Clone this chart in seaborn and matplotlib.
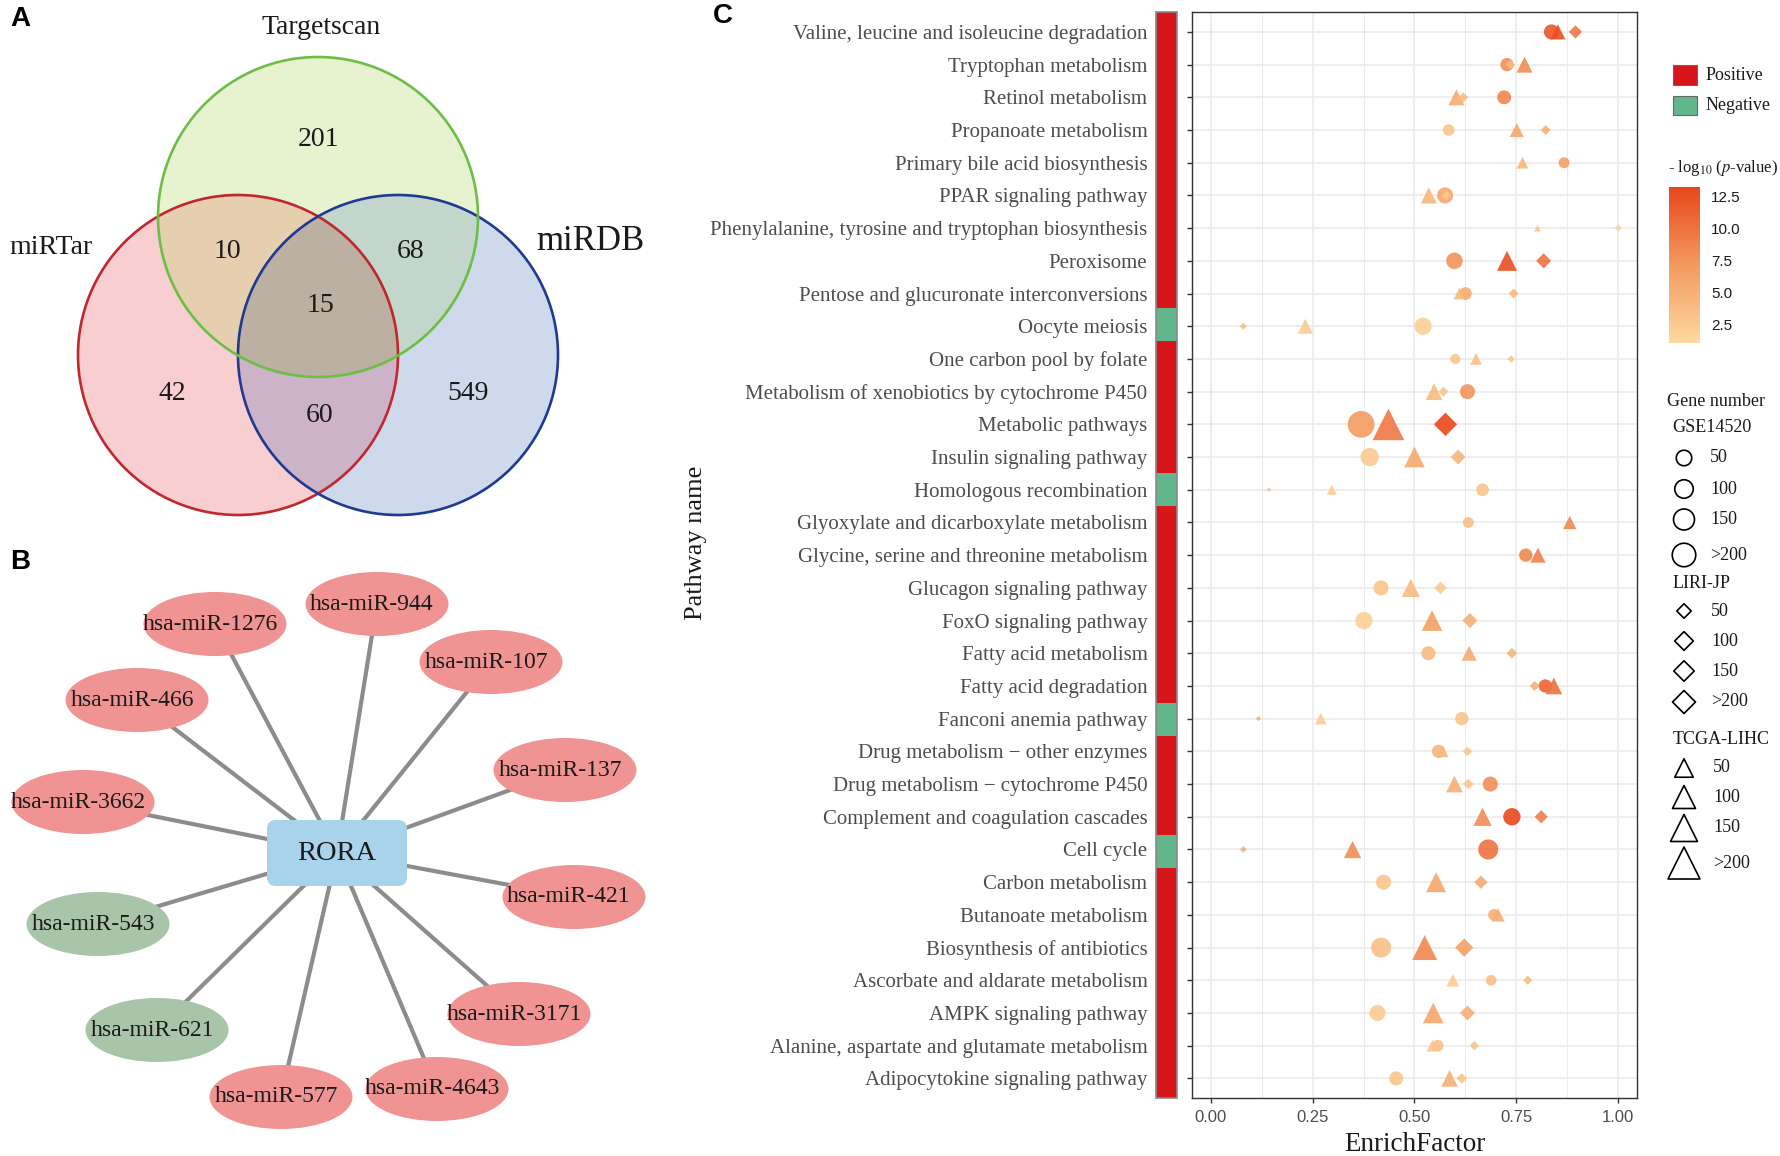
import numpy as np
import pandas as pd
import matplotlib
matplotlib.use("Agg")
import matplotlib.pyplot as plt
import seaborn as sns
from matplotlib.colors import LinearSegmentedColormap, ListedColormap, Normalize, to_rgba
from matplotlib.patches import Circle, Ellipse, FancyBboxPatch, Rectangle
import matplotlib.cm as cm

# ---------------------------------------------------------------- data
pathways = [
    "Valine, leucine and isoleucine degradation",
    "Tryptophan metabolism",
    "Retinol metabolism",
    "Propanoate metabolism",
    "Primary bile acid biosynthesis",
    "PPAR signaling pathway",
    "Phenylalanine, tyrosine and tryptophan biosynthesis",
    "Peroxisome",
    "Pentose and glucuronate interconversions",
    "Oocyte meiosis",
    "One carbon pool by folate",
    "Metabolism of xenobiotics by cytochrome P450",
    "Metabolic pathways",
    "Insulin signaling pathway",
    "Homologous recombination",
    "Glyoxylate and dicarboxylate metabolism",
    "Glycine, serine and threonine metabolism",
    "Glucagon signaling pathway",
    "FoxO signaling pathway",
    "Fatty acid metabolism",
    "Fatty acid degradation",
    "Fanconi anemia pathway",
    "Drug metabolism \u2212 other enzymes",
    "Drug metabolism \u2212 cytochrome P450",
    "Complement and coagulation cascades",
    "Cell cycle",
    "Carbon metabolism",
    "Butanoate metabolism",
    "Biosynthesis of antibiotics",
    "Ascorbate and aldarate metabolism",
    "AMPK signaling pathway",
    "Alanine, aspartate and glutamate metabolism",
    "Adipocytokine signaling pathway",
]
direction = ["Positive"] * 33
for i in (9, 14, 21, 25):
    direction[i] = "Negative"

nan = np.nan
# GSE14520 (circles)
gse_ef = [0.836, 0.727, 0.720, 0.584, 0.867, 0.575, nan, 0.598, 0.625, 0.521, 0.600,
          0.630, 0.369, 0.390, 0.667, 0.632, 0.773, 0.418, 0.376, 0.534, 0.821, 0.616,
          0.559, 0.686, 0.739, 0.681, 0.424, 0.695, 0.418, 0.688, 0.409, 0.557, 0.455]
gse_genes = [140, 110, 120, 85, 75, 160, nan, 170, 100, 186, 62,
             140, 442, 208, 100, 75, 110, 140, 186, 122, 110, 110,
             110, 140, 186, 248, 140, 85, 248, 70, 160, 85, 122]
gse_logp = [12, 8, 8.5, 3, 6.5, 6, nan, 7.5, 5.5, 2, 3,
            7.5, 7, 2.5, 3, 3.5, 8.5, 3, 2, 4, 11, 3,
            4.5, 8, 13, 10, 3, 5, 3.5, 3.5, 2.5, 3.5, 3]
# LIRI-JP (diamonds)
liri_ef = [0.895, 0.735, 0.620, 0.822, nan, 0.578, 1.000, 0.817, 0.743, 0.080, 0.737,
           0.571, 0.576, 0.607, 0.143, nan, nan, 0.564, 0.636, 0.739, 0.795, 0.117,
           0.630, 0.632, 0.811, 0.080, 0.663, nan, 0.622, 0.778, 0.630, 0.647, 0.616]
liri_genes = [55, 31, 31, 31, nan, 27, 14, 70, 31, 14, 17,
              31, 169, 70, 5, nan, nan, 50, 70, 35, 31, 8,
              27, 35, 55, 14, 55, nan, 104, 27, 70, 27, 35]
liri_logp = [9.5, 4, 4, 5, nan, 3, 2, 10, 4, 4, 3,
             3, 13, 4.5, 4, nan, nan, 2.5, 5, 4.5, 5, 5,
             3, 3, 9, 5, 5.5, nan, 6.5, 4, 5, 3, 3]
# TCGA-LIHC (triangles)
tcga_ef = [0.852, 0.770, 0.603, 0.751, 0.765, 0.535, 0.802, 0.727, 0.610, 0.232, 0.651,
           0.548, 0.436, 0.500, 0.297, 0.881, 0.803, 0.491, 0.543, 0.634, 0.842, 0.270,
           0.569, 0.598, 0.667, 0.348, 0.553, 0.705, 0.525, 0.594, 0.546, 0.544, 0.586]
tcga_genes = [140, 160, 160, 122, 85, 160, 28, 248, 85, 140, 85,
              172, 622, 265, 62, 110, 140, 208, 265, 140, 172, 85,
              85, 172, 208, 186, 248, 110, 387, 100, 265, 85, 172]
tcga_logp = [12.5, 8, 5.5, 6, 4.5, 4.5, 3, 12.5, 4, 2.5, 3.5,
             4, 9.5, 5.5, 2.5, 8.5, 9, 4, 6.5, 5.5, 10, 2.5,
             4, 5, 8, 8, 6, 5, 8.5, 2.5, 6, 3, 5]

dataset_markers = {"GSE14520": "o", "LIRI-JP": "D", "TCGA-LIHC": "^"}
legend_levels = ["50", "100", "150", ">200"]
cbar_ticks = [2.5, 5.0, 7.5, 10.0, 12.5]

venn_names = ["Targetscan", "miRTar", "miRDB"]
venn_counts = {"T": 201, "TM": 10, "TD": 68, "TMD": 15, "M": 42, "MD": 60, "D": 549}

hub = "RORA"
mirnas = ["hsa-miR-1276", "hsa-miR-944", "hsa-miR-107", "hsa-miR-466", "hsa-miR-137",
          "hsa-miR-3662", "hsa-miR-421", "hsa-miR-543", "hsa-miR-3171", "hsa-miR-621",
          "hsa-miR-4643", "hsa-miR-577"]
mirna_group = ["up", "up", "up", "up", "up", "up", "up", "down", "up", "down", "up", "up"]

# ---------------------------------------------------------------- table
frames = []
for name, ef, gn, lp in [("GSE14520", gse_ef, gse_genes, gse_logp),
                         ("TCGA-LIHC", tcga_ef, tcga_genes, tcga_logp),
                         ("LIRI-JP", liri_ef, liri_genes, liri_logp)]:
    frames.append(pd.DataFrame({"Row": np.arange(len(pathways)), "Pathway": pathways,
                                "EnrichFactor": ef, "Genes": gn, "logp": lp,
                                "Dataset": name}))
df = pd.concat(frames, ignore_index=True).dropna()

# ---------------------------------------------------------------- style
sns.set_style("white")
plt.rcParams["font.family"] = ["Liberation Serif", "DejaVu Serif"]
plt.rcParams["mathtext.fontset"] = "stix"
SANS = ["Liberation Sans", "DejaVu Sans"]

W, H = 1781, 1156
fig = plt.figure(figsize=(W / 100, H / 100), dpi=100)


def frac(x0, y0, x1, y1):
    return [x0 / W, 1 - y1 / H, (x1 - x0) / W, (y1 - y0) / H]


# overlay axes in pixel coordinates
ov = fig.add_axes([0, 0, 1, 1])
ov.set_xlim(0, W)
ov.set_ylim(H, 0)
ov.set_axis_off()

# ---------------------------------------------------------------- panel C
cmap = LinearSegmentedColormap.from_list("ef", ["#FDD9A1", "#F39A5F", "#E8461B"])
norm = Normalize(1.1, 13.2)

ax = fig.add_axes(frac(1192, 12.3, 1637, 1098))
sns.scatterplot(data=df, x="EnrichFactor", y="Row", hue="logp", size="Genes",
                style="Dataset", markers=dataset_markers, palette=cmap,
                hue_norm=(1.1, 13.2), sizes=(0, 0.836 * 800), size_norm=(0, 800),
                linewidth=0, alpha=0.9, legend=False, ax=ax, zorder=3)
ax.set_xlim(-0.046, 1.046)
ax.set_ylim(32.6, -0.6)
ax.set_xticks([0, 0.25, 0.5, 0.75, 1.0])
ax.set_xticks([0.125, 0.375, 0.625, 0.875], minor=True)
ax.set_xticklabels(["0.00", "0.25", "0.50", "0.75", "1.00"], family=SANS,
                   fontsize=12, color="#4D4D4D")
ax.set_yticks(range(len(pathways)))
ax.set_yticklabels(pathways, fontsize=15, color="#4D4D4D")
ax.tick_params(axis="y", length=3.6, width=1, color="#333333", pad=28.5, left=True)
ax.tick_params(axis="x", which="major", length=3.6, width=1, color="#333333",
               pad=5, bottom=True)
ax.tick_params(axis="x", which="minor", length=0)
ax.grid(which="major", color="#EBEBEB", lw=1.2, zorder=0)
ax.grid(which="minor", axis="x", color="#EBEBEB", lw=0.7, zorder=0)
ax.set_axisbelow(True)
for sp in ax.spines.values():
    sp.set_color("#333333")
    sp.set_linewidth(1.0)
ax.set_ylabel("")
ax.set_xlabel("EnrichFactor", fontsize=19.5, labelpad=5, color="#1A1A1A")
fig.text(696 / W, 1 - 543 / H, "Pathway name", rotation=90, fontsize=19,
         ha="center", va="center", color="#1A1A1A")

# direction strip
axs = fig.add_axes(frac(1156, 12.3, 1177, 1098))
dir_code = np.array([1 if d == "Positive" else 0 for d in direction]).reshape(-1, 1)
sns.heatmap(dir_code, cmap=ListedColormap(["#62B68C", "#D7161C"]), vmin=0, vmax=1,
            cbar=False, xticklabels=False, yticklabels=False, ax=axs)
axs.add_patch(Rectangle((0, 0), 1, len(direction), fill=False, ec="#8A8A8A", lw=1.2,
                        clip_on=False))

# ---------------------------------------------------------------- legends C
tcol = "#1A1A1A"
LFS = 13
for k, (lab, col) in enumerate([("Positive", "#D7161C"), ("Negative", "#62B68C")]):
    y0 = 65 + k * 30.7
    ov.add_patch(Rectangle((1673, y0), 24.5, 19.5, fc=col, ec="#666666", lw=0.8))
    ov.text(1706, y0 + 10, lab, fontsize=LFS, va="center", ha="left", color=tcol)

ov.text(1668, 168, r"- log$_{10}$ ($p$-value)", fontsize=12, va="center", ha="left",
        color=tcol)
cax = fig.add_axes(frac(1669.5, 187, 1700.5, 343))
cb = fig.colorbar(cm.ScalarMappable(norm=norm, cmap=cmap), cax=cax, ticks=cbar_ticks)
cb.outline.set_visible(False)
cax.tick_params(direction="in", length=5, width=1, color="white", left=True, right=True,
                labelcolor=tcol, pad=7.5)
cax.set_yticklabels(["%.1f" % t for t in cbar_ticks], family=SANS, fontsize=11)

ov.text(1667, 402, "Gene number", fontsize=LFS, va="center", ha="left", color=tcol)
legend_blocks = [
    ("GSE14520", "o", 427, [458, 489, 519.5, 555], [15.5, 18.5, 21, 23.5], 1.0, 1710),
    ("LIRI-JP", "D", 583.5, [611, 641, 671, 702], [14.5, 18.7, 20.5, 23], 1.414, 1711),
    ("TCGA-LIHC", "^", 740, [768, 797, 828, 863], [18.5, 23, 27, 32], 1.0, 1713),
]
for title, mk, ty, ys, widths, wfac, lx in legend_blocks:
    ov.text(1672.5, ty, title, fontsize=LFS, va="center", ha="left", color=tcol)
    for lev, yy, w in zip(legend_levels, ys, widths):
        sz = (w / wfac) / 1.389
        ov.scatter([1684], [yy], s=sz ** 2, marker=mk, facecolor="none",
                   edgecolor="black", linewidth=1.2)
        ov.text(lx, yy, lev, fontsize=LFS, va="center", ha="left", color=tcol)

# ---------------------------------------------------------------- panel A (Venn)
venn_layout = {"T": (318, 217), "M": (238, 355), "D": (398, 355)}
venn_edge = {"T": "#6DBE45", "M": "#C0282E", "D": "#1F3A93"}
region_color = {"T": "#E6F2D0", "M": "#F8CED1", "D": "#CED9EC", "TM": "#E6CFAE",
                "TD": "#C3D6CC", "MD": "#CDB3C7", "TMD": "#BCB0A3"}
R = 160
x0, x1, y0, y1 = 60, 580, 40, 530
gx, gy = np.meshgrid(np.arange(x0, x1) + 0.5, np.arange(y0, y1) + 0.5)
img = np.zeros(gx.shape + (4,))
inside = {k: (gx - c[0]) ** 2 + (gy - c[1]) ** 2 <= R ** 2 for k, c in venn_layout.items()}
for code, col in region_color.items():
    mask = np.ones(gx.shape, bool)
    for k in "TMD":
        mask &= inside[k] if k in code else ~inside[k]
    img[mask] = to_rgba(col)
ov.imshow(img, extent=(x0, x1, y1, y0), origin="upper", interpolation="nearest",
          zorder=1, aspect="auto")
for k in "MDT":
    ov.add_patch(Circle(venn_layout[k], R, fill=False, ec=venn_edge[k], lw=1.9, zorder=2))
count_pos = {"T": (319, 140), "TM": (227, 251), "TD": (411, 251), "TMD": (320, 306),
             "M": (172, 393), "MD": (320, 415), "D": (468, 393)}
for key, val in venn_counts.items():
    ov.text(*count_pos[key], str(val), fontsize=20, ha="center", va="center",
            color=tcol, zorder=3)
name_pos = {"Targetscan": ((321, 28), 20), "miRTar": ((51, 248), 20),
            "miRDB": ((590, 242), 25)}
for nm in venn_names:
    (x, y), fs = name_pos[nm]
    ov.text(x, y, nm, fontsize=fs, ha="center", va="center", color=tcol)
ov.set_xlim(0, W)
ov.set_ylim(H, 0)

# ---------------------------------------------------------------- panel B (network)
node_layout = [(215, 624), (377, 604), (491, 662), (137, 700), (565, 770), (83, 802),
               (574, 897), (98, 924), (519, 1014), (157, 1030), (437, 1089), (281, 1097)]
hub_xy = (337, 853)
group_color = {"up": "#F09393", "down": "#A8C5AA"}
for (x, y) in node_layout:
    ov.plot([hub_xy[0], x], [hub_xy[1], y], color="#8C8C8C", lw=3.0, zorder=1,
            solid_capstyle="butt")
for name, g, (x, y) in zip(mirnas, mirna_group, node_layout):
    ov.add_patch(Ellipse((x, y), 143, 64, fc=group_color[g], ec="none", zorder=2))
    ov.text(x - 5, y, name, fontsize=17, ha="center", va="center", color=tcol, zorder=3)
ov.add_patch(FancyBboxPatch((hub_xy[0] - 62, hub_xy[1] - 25), 124, 50,
                            boxstyle="round,pad=8,rounding_size=9",
                            fc="#A9D3EA", ec="none", zorder=2))
ov.text(hub_xy[0], hub_xy[1], hub, fontsize=20.5, ha="center", va="center", color=tcol,
        zorder=3)

# ---------------------------------------------------------------- panel letters
for lab, (x, y) in {"A": (10, 19), "B": (10, 562), "C": (713, 16)}.items():
    ov.text(x, y, lab, fontsize=20, fontweight="bold", family=SANS, ha="left",
            va="center", color="black")

fig.savefig("out.png", dpi=100)
